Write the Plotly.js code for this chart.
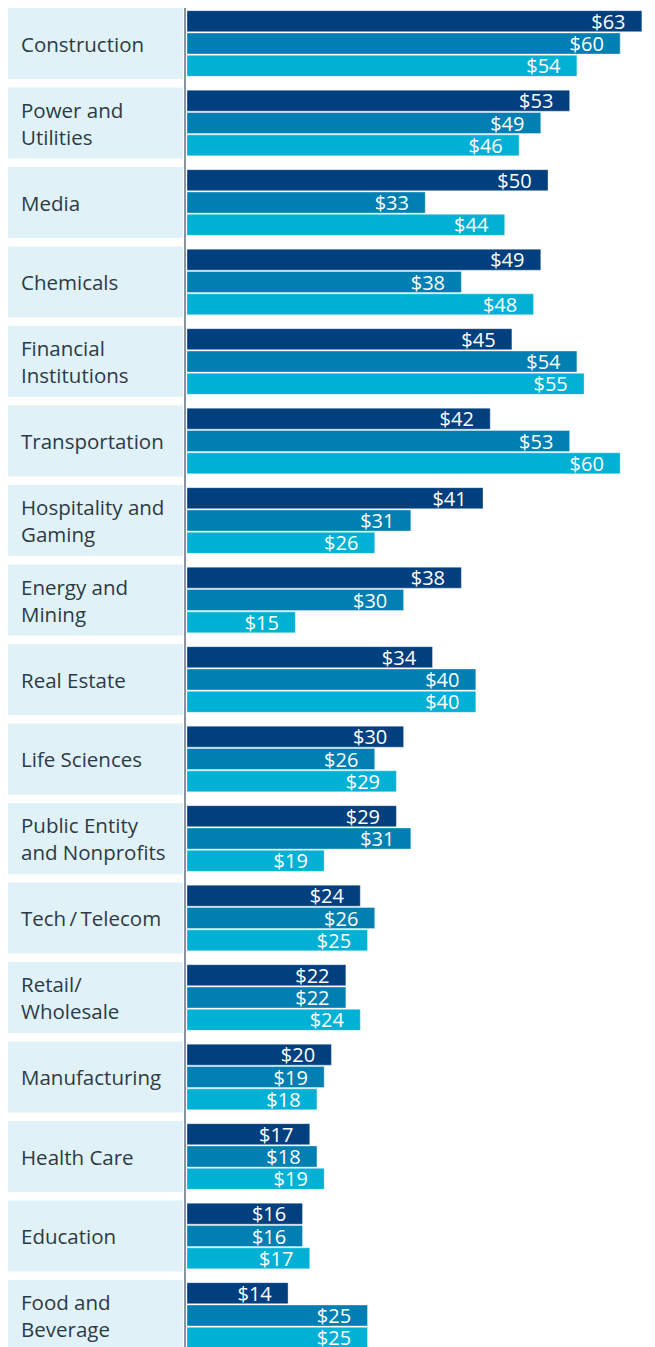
<!DOCTYPE html>
<html><head><meta charset="utf-8">
<script src="https://cdn.plot.ly/plotly-3.0.1.min.js"></script>
<style>html,body{margin:0;padding:0;background:#fff;}</style>
</head><body><div id="chart" style="width:655px;height:1347px;"></div>
<script>
const categories = ["Construction","Power and<br>Utilities","Media","Chemicals","Financial<br>Institutions","Transportation","Hospitality and<br>Gaming","Energy and<br>Mining","Real Estate","Life Sciences","Public Entity<br>and Nonprofits","Tech\u2009/\u2009Telecom","Retail/<br>Wholesale","Manufacturing","Health Care","Education","Food and<br>Beverage"];
const series1 = [63,53,50,49,45,42,41,38,34,30,29,24,22,20,17,16,14];
const series2 = [60,49,33,38,54,53,31,30,40,26,31,26,22,19,18,16,25];
const series3 = [54,46,44,48,55,60,26,15,40,29,19,25,24,18,19,17,25];
const colors = ["#023f7f","#0080b2","#00b1d5"];

const W = 655, H = 1347;
const plotLeft = 187, pxPerUnit = 7.22;
const pitch = 79.5, firstCenter = 43.5;
const ids = categories.map((c,i)=>i);

function tr(vals, color, name){
  return {type:'bar', orientation:'h', name:name, x:vals, y:ids,
    marker:{color:color, line:{color:'rgba(255,255,255,0.6)', width:0.6}},
    text: vals.map(v=>'$'+v+'\u2002\u2009'), textposition:'inside', insidetextanchor:'end',
    textfont:{family:'Open Sans', size:20, color:'#ffffff'}, constraintext:'none',
    hoverinfo:'skip', cliponaxis:false};
}
const data = [tr(series1,colors[0],'s1'), tr(series2,colors[1],'s2'), tr(series3,colors[2],'s3')];

const shapes = ids.map(i=>({type:'rect', xref:'paper', yref:'y', x0:8/W, x1:183/W,
  y0:i-35.5/pitch, y1:i+35.5/pitch, fillcolor:'#e0f2f7', line:{width:0}, layer:'below'}));
shapes.push({type:'line', xref:'paper', yref:'paper', x0:185/W, x1:185/W, y0:1-8/H, y1:0,
  line:{color:'#8a949e', width:2}});

const annotations = categories.map((c,i)=>({xref:'paper', yref:'y', x:19/W, y:i, xanchor:'left',
  text:c, align:'left', showarrow:false, font:{family:'Open Sans', size:20.5, color:'#2d3a46'}}));

const layout = {width:W, height:H, margin:{l:0,r:0,t:0,b:0}, showlegend:false,
  paper_bgcolor:'#fff', plot_bgcolor:'rgba(0,0,0,0)',
  barmode:'group', bargap:0.157, bargroupgap:0.06,
  xaxis:{domain:[plotLeft/W,1], range:[0,(W-plotLeft)/pxPerUnit], visible:false, fixedrange:true},
  yaxis:{range:[(H-firstCenter)/pitch, -firstCenter/pitch], visible:false, fixedrange:true},
  shapes:shapes, annotations:annotations};
Plotly.newPlot('chart', data, layout, {displayModeBar:false, staticPlot:true});
</script></body></html>
